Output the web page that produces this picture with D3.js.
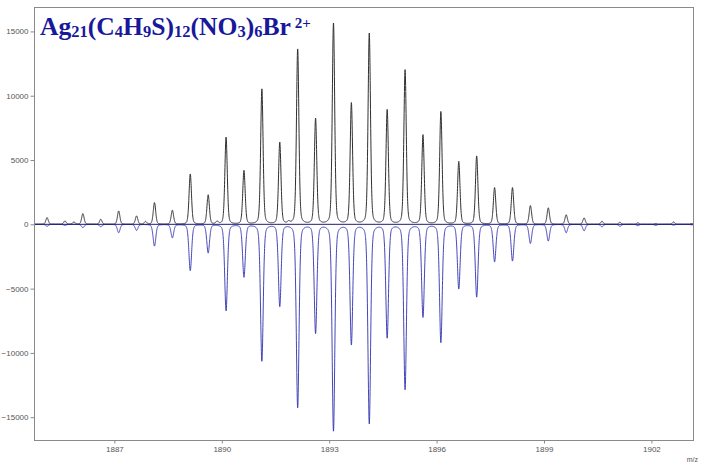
<!DOCTYPE html>
<meta charset="utf-8">
<head>
<title>Ag21 isotope pattern</title>
<style>
  body { margin: 0; background: #fff; }
  .axis text { font-family: "Liberation Sans", Arial, sans-serif; font-size: 8px; fill: #555; }
  .axis line { stroke: #8a8a8a; }
  .axis path { display: none; }
</style>
</head>
<body>
<div id="chart"></div>
<script src="https://cdnjs.cloudflare.com/ajax/libs/d3/7.8.5/d3.min.js"></script>
<script>
var width = 702, height = 466;
var margin = {top: 7, right: 8, bottom: 25, left: 34};

// isotope peaks of the 2+ ion (m/z)
var peakMz = [1885.12, 1885.62, 1886.12, 1886.62, 1887.12, 1887.62, 1888.12, 1888.62,
  1889.12, 1889.62, 1890.12, 1890.62, 1891.12, 1891.62, 1892.12, 1892.62,
  1893.12, 1893.62, 1894.12, 1894.62, 1895.12, 1895.62, 1896.12, 1896.62,
  1897.12, 1897.62, 1898.12, 1898.62, 1899.12, 1899.62, 1900.12, 1900.62,
  1901.12, 1901.62, 1902.12, 1902.62, 1903.12];

// measured spectrum (black, up)
var expIntensity = [520, 260, 830, 390, 1040, 650, 1690, 1090,
  3910, 2280, 6770, 4170, 10520, 6350, 13610, 8210,
  15630, 9410, 14850, 8890, 12000, 6940, 8760, 4870,
  5310, 2850, 2850, 1450, 1280, 740, 500, 240,
  160, 120, 60, 180, 60];

// simulated pattern (blue, drawn down)
var simIntensity = [150, 80, 260, 180, 650, 470, 1690, 1040,
  3600, 2210, 6720, 4080, 10630, 6350, 14230, 8430,
  16050, 9310, 15480, 8790, 12830, 7190, 9180, 5000,
  5650, 2900, 2850, 1480, 1300, 650, 500, 190,
  150, 100, 80, 60, 40];

// small extra peaks in the measured trace
var extraMz = [1885.87, 1887.87, 1889.87, 1891.87];
var extraIntensity = [180, 210, 200, 150];

var xTicks = [1887, 1890, 1893, 1896, 1899, 1902];
var yTicks = [-15000, -10000, -5000, 0, 5000, 10000, 15000];

var svg = d3.select("#chart").append("svg")
  .attr("width", width)
  .attr("height", height);

var x = d3.scaleLinear().domain([1884.755, 1903.19]).range([margin.left, width - margin.right]);
var y = d3.scaleLinear().domain([-16850, 16900]).range([height - margin.bottom, margin.top]);

svg.append("clipPath").attr("id", "plot")
  .append("rect")
  .attr("x", margin.left).attr("y", margin.top)
  .attr("width", width - margin.left - margin.right)
  .attr("height", height - margin.top - margin.bottom);

// peak shape (pseudo-voigt) used to draw each stick as a profile
function shape(dx, fwhm, eta) {
  var q = dx * dx / (fwhm * fwhm);
  return eta / (1 + 4 * q) + (1 - eta) * Math.exp(-4 * Math.LN2 * q);
}

function profile(mz, ints, mz2, ints2, fwhm, eta, sign) {
  var pts = [];
  d3.range(x.domain()[0], x.domain()[1], 0.003).forEach(function (m) {
    var s = 0;
    for (var i = 0; i < mz.length; i++) {
      if (Math.abs(m - mz[i]) < 0.6) s += ints[i] * shape(m - mz[i], fwhm, eta);
    }
    for (var j = 0; j < mz2.length; j++) {
      if (Math.abs(m - mz2[j]) < 0.6) s += ints2[j] * shape(m - mz2[j], fwhm, eta);
    }
    pts.push([m, sign * s]);
  });
  return pts;
}

var line = d3.line()
  .x(function (d) { return x(d[0]); })
  .y(function (d) { return y(d[1]); });

var g = svg.append("g").attr("clip-path", "url(#plot)");

g.append("path")
  .datum(profile(peakMz, expIntensity, extraMz, extraIntensity, 0.08, 0.3, 1))
  .attr("d", line)
  .attr("fill", "none")
  .attr("stroke", "#303030")
  .attr("stroke-width", 1);

g.append("path")
  .datum(profile(peakMz, simIntensity, [], [], 0.09, 0.3, -1))
  .attr("d", line)
  .attr("fill", "none")
  .attr("stroke", "#3030b0")
  .attr("stroke-width", 0.9);

// zero line
g.append("line")
  .attr("x1", x.range()[0]).attr("x2", x.range()[1])
  .attr("y1", y(0)).attr("y2", y(0))
  .attr("stroke", "#1d1d7a")
  .attr("stroke-width", 1);

// frame
svg.append("rect")
  .attr("x", margin.left + 0.5).attr("y", margin.top + 0.5)
  .attr("width", width - margin.left - margin.right - 1)
  .attr("height", height - margin.top - margin.bottom - 1)
  .attr("fill", "none")
  .attr("stroke", "#8a8a8a");

// axes
var yAxis = svg.append("g").attr("class", "axis")
  .attr("transform", "translate(" + (margin.left + 0.5) + ",0)");
yAxis.call(d3.axisLeft(y).tickValues(d3.range(-16000, 17000, 1000)).tickSize(2).tickFormat(""));
yAxis.call(d3.axisLeft(y).tickValues(yTicks).tickSize(4).tickPadding(2).tickFormat(d3.format("d")));

var xAxis = svg.append("g").attr("class", "axis")
  .attr("transform", "translate(0," + (height - margin.bottom - 0.5) + ")");
xAxis.call(d3.axisBottom(x).tickValues(d3.range(1885, 1904, 1)).tickSize(3).tickFormat(""));
xAxis.call(d3.axisBottom(x).tickValues(xTicks).tickSize(3).tickPadding(3).tickFormat(d3.format("d")));

svg.append("text")
  .attr("x", 698).attr("y", 462)
  .attr("text-anchor", "end")
  .attr("font-family", "Liberation Sans, Arial, sans-serif")
  .attr("font-size", 7)
  .attr("fill", "#555")
  .text("m/z");

// formula label
var parts = [["Ag", 0], ["21", 1], ["(C", 0], ["4", 1], ["H", 0], ["9", 1], ["S)", 0], ["12", 1],
  ["(NO", 0], ["3", 1], [")", 0], ["6", 1], ["Br", 0], ["\u00a02+", 2]];
var shift = {0: 0, 1: 2, 2: -7};
var size = {0: 25.6, 1: 16.5, 2: 15};
var title = svg.append("text")
  .attr("x", 40).attr("y", 35)
  .attr("font-family", "Liberation Serif, 'Times New Roman', serif")
  .attr("font-weight", "bold")
  .attr("fill", "#18189a");
var prev = 0;
parts.forEach(function (p) {
  title.append("tspan")
    .attr("dy", shift[p[1]] - prev)
    .attr("font-size", size[p[1]])
    .text(p[0]);
  prev = shift[p[1]];
});
</script>
</body>
</html>
